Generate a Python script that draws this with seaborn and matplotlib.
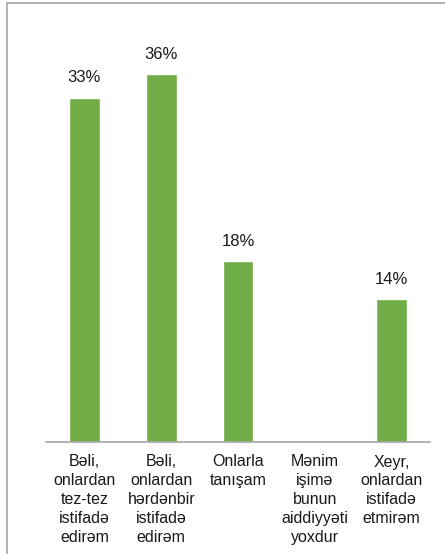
import numpy as np
import pandas as pd
import matplotlib
matplotlib.use("Agg")
import matplotlib.pyplot as plt
import seaborn as sns
from matplotlib.lines import Line2D

# answer categories and shares (4th category has no bar)
categories = ["Bəli,\nonlardan\ntez-tez\nistifadə\nedirəm",
              "Bəli,\nonlardan\nhərdənbir\nistifadə\nedirəm",
              "Onlarla\ntanışam",
              "Mənim\nişimə\nbunun\naiddiyyəti\nyoxdur",
              "Xeyr,\nonlardan\nistifadə\netmirəm"]
shares = [0.335, 0.358, 0.176, np.nan, 0.139]
share_labels = ["33%", "36%", "18%", "", "14%"]

df = pd.DataFrame({"cat": categories, "share": shares})

sns.set_style("white")
plt.rcParams['font.family'] = ['Liberation Sans', 'DejaVu Sans']

fig = plt.figure(figsize=(4.45, 5.54), dpi=100)
ax = fig.add_axes([46/445, 1-442/554, 384/445, 411/554])

sns.barplot(x="cat", y="share", data=df, color="#70AD47", width=0.4,
            saturation=1, ax=ax)
ax.set_ylim(0, 0.40)
ax.set_xlim(-0.5, 4.5)

for i, (v, lab) in enumerate(zip(shares, share_labels)):
    if lab:
        ax.annotate(lab, (i, v), xytext=(0, 9), textcoords="offset points",
                    ha="center", va="bottom", fontsize=12, color="#1a1a1a")

ax.set_xlabel("")
ax.set_ylabel("")
ax.set_yticks([])
ax.tick_params(axis="x", length=0, pad=9, labelsize=11.5, colors="#1a1a1a")
for t in ax.get_xticklabels():
    t.set_linespacing(1.33)
for s in ["top", "right", "left"]:
    ax.spines[s].set_visible(False)
ax.spines["bottom"].set_color("#a6a6a6")
ax.spines["bottom"].set_linewidth(1.2)

# outer frame (cropped chart border)
fig.add_artist(Line2D([7/445, 7/445], [0, 1-3/554], transform=fig.transFigure,
                      color="#a6a6a6", lw=1.2))
fig.add_artist(Line2D([7/445, 1], [1-3/554, 1-3/554], transform=fig.transFigure,
                      color="#a6a6a6", lw=1.2))

fig.savefig("out.png", dpi=100)
